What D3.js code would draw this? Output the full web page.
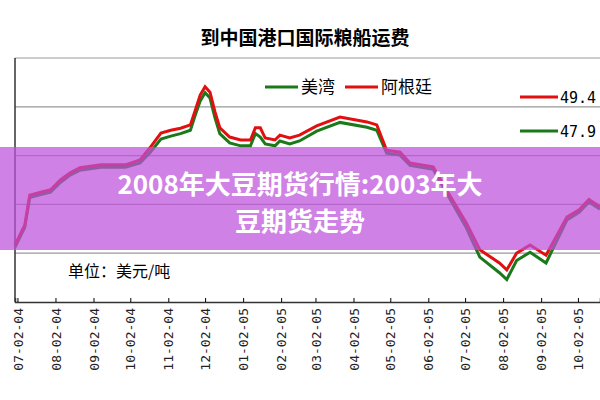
<!DOCTYPE html>
<html><head><meta charset="utf-8">
<script src="https://d3js.org/d3.v7.min.js"></script>
<style>body{margin:0;background:#fff}svg{display:block}</style>
</head><body><svg id="c" width="600" height="400"></svg>
<script>
const dates = ["2004-06-30","2004-07-08","2004-07-12","2004-07-21","2004-07-29","2004-08-06","2004-08-14","2004-08-22","2004-09-08","2004-09-28","2004-10-10","2004-10-18","2004-10-27","2004-11-04","2004-11-12","2004-11-20","2004-11-24","2004-11-28","2004-12-02","2004-12-06","2004-12-10","2004-12-14","2004-12-22","2004-12-31","2005-01-08","2005-01-12","2005-01-16","2005-01-20","2005-01-28","2005-02-01","2005-02-09","2005-02-17","2005-03-03","2005-03-22","2005-04-13","2005-04-21","2005-04-29","2005-05-10","2005-05-18","2005-06-06","2005-06-17","2005-07-03","2005-07-14","2005-07-30","2005-08-05","2005-08-13","2005-08-24","2005-09-06","2005-09-23","2005-10-03","2005-10-11","2005-10-20"];
const argentina = [31.7,35.8,41.9,42.5,43.0,45.0,46.5,47.5,48.1,48.1,49.1,51.6,54.6,55.2,55.6,56.3,59.3,62.4,64.1,63.0,59.0,55.7,53.8,53.2,53.2,55.7,55.7,53.6,53.2,54.2,53.6,54.2,56.1,57.9,56.9,56.3,51.1,50.7,48.5,47.7,42.9,36.2,30.7,28.0,26.6,30.0,31.7,29.6,37.4,38.9,41.0,39.5];
const usGulf =   [31.2,35.3,41.4,42.0,42.5,44.5,46.0,47.0,47.6,47.6,48.5,50.6,53.4,54.0,54.5,55.2,58.3,61.2,62.9,61.8,57.8,54.5,52.6,52.0,52.0,54.5,53.8,52.4,52.0,53.0,52.4,53.0,55.0,56.8,55.8,55.2,50.5,50.1,48.0,47.2,42.3,35.2,29.2,26.0,24.6,28.5,30.2,28.0,36.8,38.4,40.5,39.0];
const tickLabels = ["07-02-04","08-02-04","09-02-04","10-02-04","11-02-04","12-02-04","01-02-05","02-02-05","03-02-05","04-02-05","05-02-05","06-02-05","07-02-05","08-02-05","09-02-05","10-02-05"];
const yTicks = [30,40,50,60,70];

const svg = d3.select("#c");
const pd = d3.timeParse("%Y-%m-%d"), pt = d3.timeParse("%m-%d-%y");
const x = d3.scaleTime().domain([pd("2004-06-30"), pd("2005-10-20")]).range([15, 600]);
const y = d3.scaleLinear().domain([20,70]).range([302,58]);

svg.append("text").attr("x",305).attr("y",45).attr("text-anchor","middle")
  .attr("font-family","Noto Sans CJK SC").attr("font-weight","bold").attr("font-size",19).text("到中国港口国际粮船运费");

svg.selectAll(".g").data(yTicks).join("line").attr("x1",15).attr("x2",600)
  .attr("y1",d=>y(d)).attr("y2",d=>y(d)).attr("stroke","#999").attr("stroke-width",1.2);
svg.append("line").attr("x1",15).attr("x2",15).attr("y1",58).attr("y2",302).attr("stroke","#333").attr("stroke-width",1.5);

const ax = svg.append("g").attr("transform","translate(0,302)")
  .call(d3.axisBottom(x).tickValues(tickLabels.map(t=>pt(t))).tickSize(-4).tickFormat(d3.timeFormat("%m-%d-%y")));
ax.select(".domain").attr("stroke","#333").attr("stroke-width",1.5);
ax.selectAll("text").attr("transform","rotate(-90)").attr("text-anchor","end").attr("dx","-6").attr("dy","0.35em").attr("x",0).attr("y",0)
  .attr("font-family","DejaVu Sans Mono").attr("font-size",13).attr("fill","#222");

const data = dates.map((d,i)=>({d:pd(d),a:argentina[i],u:usGulf[i]}));
const line = k => d3.line().x(p=>x(p.d)).y(p=>y(p[k]));
svg.append("path").datum(data).attr("d",line("u")).attr("fill","none").attr("stroke","#1a7a1a").attr("stroke-width",3);
svg.append("path").datum(data).attr("d",line("a")).attr("fill","none").attr("stroke","#e01010").attr("stroke-width",3);

const leg = [[265,87,"#1a7a1a","美湾"],[345,87,"#e01010","阿根廷"]];
leg.forEach(l=>{svg.append("line").attr("x1",l[0]).attr("x2",l[0]+33).attr("y1",l[1]).attr("y2",l[1]).attr("stroke",l[2]).attr("stroke-width",3);
 svg.append("text").attr("x",l[0]+36).attr("y",l[1]+6).attr("font-family","Noto Sans CJK SC").attr("font-size",17).text(l[3]);});
[[520,97,"#e01010","49.4"],[520,131,"#1a7a1a","47.9"]].forEach(l=>{
 svg.append("line").attr("x1",l[0]).attr("x2",l[0]+38).attr("y1",l[1]).attr("y2",l[1]).attr("stroke",l[2]).attr("stroke-width",3);
 svg.append("text").attr("x",l[0]+40).attr("y",l[1]+6).attr("font-family","DejaVu Sans Mono").attr("font-size",15).text(l[3]);});
svg.append("text").attr("x",68).attr("y",277).attr("font-family","Noto Sans CJK SC").attr("font-size",16).text("单位：美元/吨");

svg.append("rect").attr("x",0).attr("y",147).attr("width",600).attr("height",103).attr("fill","rgba(190,80,220,0.72)");
svg.append("text").attr("x",300).attr("y",194).attr("text-anchor","middle").attr("fill","#fff").attr("font-family","Noto Sans CJK SC").attr("font-weight","bold").attr("font-size",26).text("2008年大豆期货行情:2003年大");
svg.append("text").attr("x",300).attr("y",231).attr("text-anchor","middle").attr("fill","#fff").attr("font-family","Noto Sans CJK SC").attr("font-weight","bold").attr("font-size",26).text("豆期货走势");
</script></body></html>
